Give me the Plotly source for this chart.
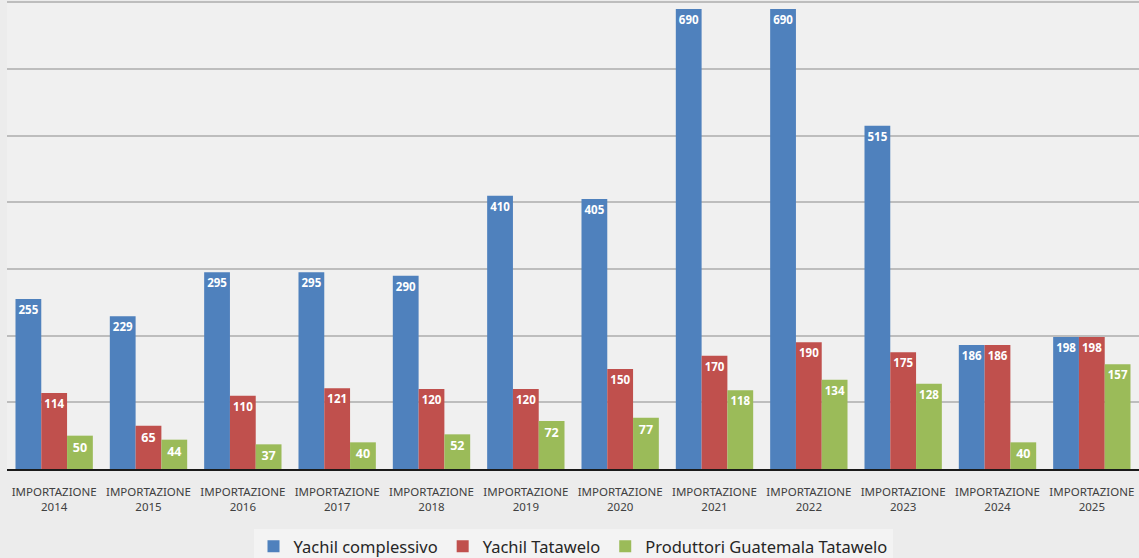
import plotly.graph_objects as go

years = ["2014", "2015", "2016", "2017", "2018", "2019", "2020", "2021", "2022", "2023", "2024", "2025"]
categories = ["IMPORTAZIONE<br>" + y for y in years]
yachil_complessivo = [255, 229, 295, 295, 290, 410, 405, 690, 690, 515, 186, 198]
yachil_tatawelo = [114, 65, 110, 121, 120, 120, 150, 170, 190, 175, 186, 198]
produttori_guatemala = [50, 44, 37, 40, 52, 72, 77, 118, 134, 128, 40, 157]

series = [
    ("Yachil complessivo", yachil_complessivo, "#4f81bd"),
    ("Yachil Tatawelo", yachil_tatawelo, "#c0504d"),
    ("Produttori Guatemala Tatawelo", produttori_guatemala, "#9bbb59"),
]

fig = go.Figure()
for name, vals, col in series:
    fig.add_trace(go.Bar(
        x=categories, y=vals, name=name,
        marker=dict(color=col, line=dict(width=0)),
        text=[str(v) for v in vals],
        textposition="inside", insidetextanchor="end",
        textangle=0,
        textfont=dict(color="white", size=12.5, family="Noto Sans", weight="bold"),
        cliponaxis=False,
    ))

fig.add_shape(type="line", xref="paper", yref="y", x0=0, x1=1, y0=100, y1=100,
              line=dict(color="#1a1a1a", width=1.5), layer="between")

fig.update_layout(
    width=1139, height=558,
    margin=dict(l=7, r=0, t=1, b=89, autoexpand=False),
    paper_bgcolor="#ececec",
    plot_bgcolor="#f0f0f0",
    barmode="group", bargap=0.18, bargroupgap=0,
    font=dict(family="Noto Sans", color="#404040"),
    xaxis=dict(showgrid=False, tickfont=dict(size=11.5, color="#404040"),
               showline=True, linecolor="#1a1a1a", linewidth=2, ticks="",
               ticklabelstandoff=11, automargin=False),
    yaxis=dict(range=[0, 702], dtick=100, showticklabels=False,
               gridcolor="#bdbdbd", gridwidth=1.5, zeroline=False, automargin=False),
    legend=dict(orientation="h", x=0.5, xanchor="center", y=-0.128, yanchor="top",
                bgcolor="#f3f3f3", font=dict(size=16.5, color="#262626"),
                itemwidth=30, tracegroupgap=0),
    showlegend=True,
)

fig.write_html("out.html", config={"displayModeBar": False})

with open("out.html", "r", encoding="utf-8") as f:
    html = f.read()
html = html.replace("<head>", "<head><style>html,body{margin:0;padding:0;overflow:hidden;}</style>", 1)
with open("out.html", "w", encoding="utf-8") as f:
    f.write(html)
